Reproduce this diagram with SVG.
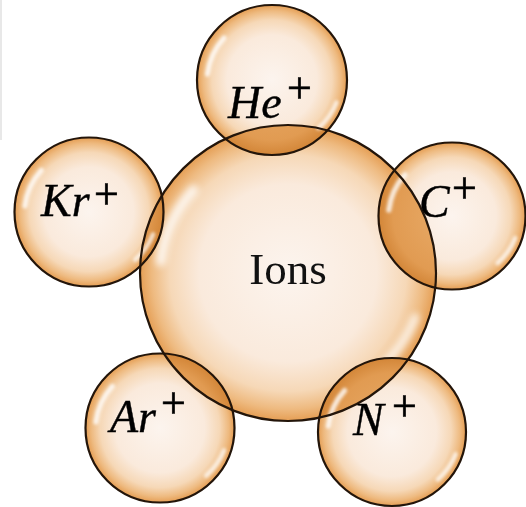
<svg xmlns="http://www.w3.org/2000/svg" xmlns:xlink="http://www.w3.org/1999/xlink" width="526" height="507" viewBox="0 0 526 507">
<style>
.fill{fill:url(#bg);}
.lens{fill:url(#lg);}
.edge{fill:none;stroke:#23150a;stroke-width:2.2;}
.lbl{font-family:"Liberation Serif","Times New Roman",serif;font-style:italic;font-size:46px;fill:#000;stroke:#000;stroke-width:0.4;}
.plus{font-family:"Liberation Serif","Times New Roman",serif;font-size:44px;fill:#000;stroke:#000;stroke-width:0.7;}
.ions{font-family:"Liberation Serif","Times New Roman",serif;font-size:45px;fill:#111;}
.hl{fill:none;stroke:#ffffff;stroke-linecap:round;}
</style>
<defs>
<radialGradient id="bg" cx="0.5" cy="0.5" r="0.5">
<stop offset="0" stop-color="#fcf4ee"/>
<stop offset="0.6" stop-color="#faeadc"/>
<stop offset="0.8" stop-color="#f6d8b7"/>
<stop offset="0.92" stop-color="#eeba80"/>
<stop offset="1" stop-color="#e59e54"/>
</radialGradient>
<radialGradient id="lg" cx="0.5" cy="0.5" r="0.5">
<stop offset="0" stop-color="#e9ac6a"/>
<stop offset="0.8" stop-color="#e19b52"/>
<stop offset="1" stop-color="#d38638"/>
</radialGradient>
<filter id="blur" x="-20%" y="-20%" width="140%" height="140%"><feGaussianBlur stdDeviation="2.4"/></filter>
<g id="hlU" filter="url(#blur)">
<path class="hl" d="M -86 -8 A 87 87 0 0 1 -64 -56" stroke-width="7" opacity="0.8"/>
<path class="hl" d="M 86 30 A 90 90 0 0 1 62 64" stroke-width="6" opacity="0.75"/>
</g>
<circle id="cC" cx="288" cy="273" r="148"/>
<clipPath id="clipC"><circle cx="288" cy="273" r="148"/></clipPath>
<clipPath id="clipHe"><circle cx="272" cy="80" r="75"/></clipPath>
<clipPath id="clipKr"><circle cx="89" cy="212" r="74.5"/></clipPath>
<clipPath id="clipCp"><circle cx="452" cy="216" r="73.5"/></clipPath>
<clipPath id="clipAr"><circle cx="160" cy="428" r="74.5"/></clipPath>
<clipPath id="clipN"><circle cx="392" cy="432" r="74"/></clipPath>
</defs>
<rect x="0" y="0" width="526" height="507" fill="#ffffff"/>
<rect x="0" y="0" width="2" height="140" fill="#e8e8e8"/>

<g id="ions">
<circle class="fill" cx="288" cy="273" r="148"/>
<use xlink:href="#hlU" href="#hlU" transform="translate(288,273) scale(1.48)"/>
<circle class="edge" cx="288" cy="273" r="148"/>
<text class="ions" x="288" y="284" text-anchor="middle">Ions</text>
</g>

<g id="he">
<circle class="fill" cx="272" cy="80" r="75"/>
<circle class="lens" cx="272" cy="80" r="75" clip-path="url(#clipC)"/>
<use xlink:href="#hlU" href="#hlU" transform="translate(272,80) scale(0.75)"/>
<circle class="edge" cx="272" cy="80" r="75"/>
<use xlink:href="#cC" href="#cC" class="edge" clip-path="url(#clipHe)"/>
<text class="lbl" x="228" y="118">He</text>
<text class="plus" x="287" y="103">+</text>
</g>

<g id="kr">
<circle class="fill" cx="89" cy="212" r="74.5"/>
<circle class="lens" cx="89" cy="212" r="74.5" clip-path="url(#clipC)"/>
<use xlink:href="#hlU" href="#hlU" transform="translate(89,212) scale(0.745)"/>
<circle class="edge" cx="89" cy="212" r="74.5"/>
<use xlink:href="#cC" href="#cC" class="edge" clip-path="url(#clipKr)"/>
<text class="lbl" x="41" y="216">Kr</text>
<text class="plus" x="94" y="209">+</text>
</g>

<g id="cplus">
<circle class="fill" cx="452" cy="216" r="73.5"/>
<circle class="lens" cx="452" cy="216" r="73.5" clip-path="url(#clipC)"/>
<use xlink:href="#hlU" href="#hlU" transform="translate(452,216) scale(0.735)"/>
<circle class="edge" cx="452" cy="216" r="73.5"/>
<use xlink:href="#cC" href="#cC" class="edge" clip-path="url(#clipCp)"/>
<text class="lbl" x="419" y="217">C</text>
<text class="plus" x="452" y="203">+</text>
</g>

<g id="ar">
<circle class="fill" cx="160" cy="428" r="74.5"/>
<circle class="lens" cx="160" cy="428" r="74.5" clip-path="url(#clipC)"/>
<use xlink:href="#hlU" href="#hlU" transform="translate(160,428) scale(0.745)"/>
<circle class="edge" cx="160" cy="428" r="74.5"/>
<use xlink:href="#cC" href="#cC" class="edge" clip-path="url(#clipAr)"/>
<text class="lbl" x="110" y="432">Ar</text>
<text class="plus" x="161" y="418">+</text>
</g>

<g id="n">
<circle class="fill" cx="392" cy="432" r="74"/>
<circle class="lens" cx="392" cy="432" r="74" clip-path="url(#clipC)"/>
<use xlink:href="#hlU" href="#hlU" transform="translate(392,432) scale(0.74)"/>
<circle class="edge" cx="392" cy="432" r="74"/>
<use xlink:href="#cC" href="#cC" class="edge" clip-path="url(#clipN)"/>
<text class="lbl" x="353" y="435">N</text>
<text class="plus" x="392" y="421">+</text>
</g>
</svg>
